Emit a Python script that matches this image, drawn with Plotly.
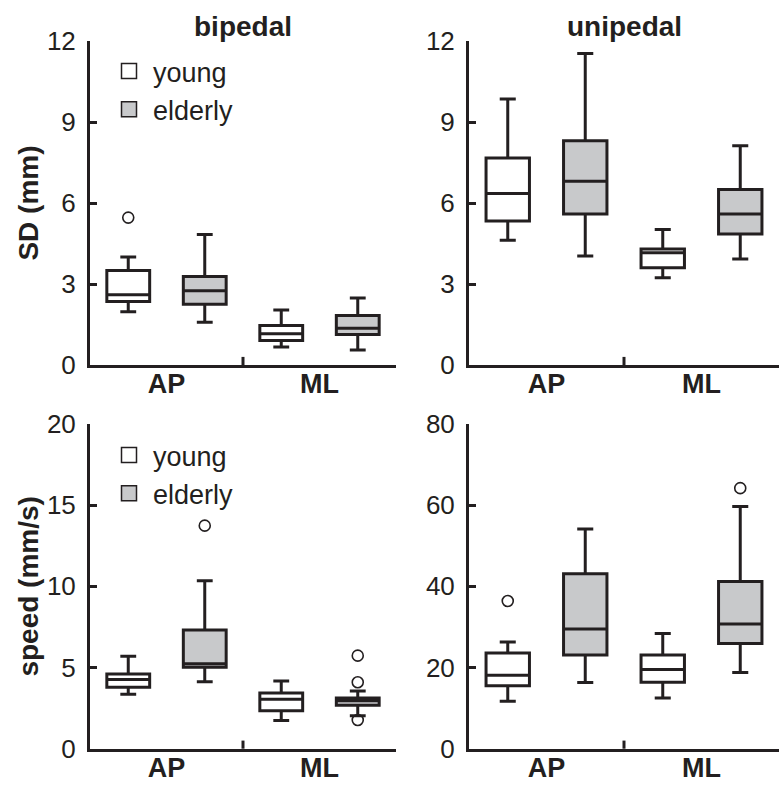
import plotly.graph_objects as go

# ---------------- data ----------------
categories = ["AP", "ML"]
groups = ["young", "elderly"]

# SD (mm), bipedal
sd_bi_young = dict(q1=[2.35, 0.91], median=[2.60, 1.16], q3=[3.50, 1.46],
                   lowerfence=[1.97, 0.67], upperfence=[4.00, 2.04], outliers=[[5.46], []])
sd_bi_elderly = dict(q1=[2.25, 1.13], median=[2.75, 1.36], q3=[3.28, 1.83],
                     lowerfence=[1.58, 0.56], upperfence=[4.83, 2.48], outliers=[[], []])
# SD (mm), unipedal
sd_uni_young = dict(q1=[5.33, 3.60], median=[6.35, 4.16], q3=[7.67, 4.30],
                    lowerfence=[4.62, 3.23], upperfence=[9.85, 5.02], outliers=[[], []])
sd_uni_elderly = dict(q1=[5.59, 4.85], median=[6.81, 5.59], q3=[8.31, 6.50],
                      lowerfence=[4.04, 3.93], upperfence=[11.54, 8.12], outliers=[[], []])
# speed (mm/s), bipedal
sp_bi_young = dict(q1=[3.78, 2.34], median=[4.27, 3.04], q3=[4.60, 3.43],
                   lowerfence=[3.35, 1.73], upperfence=[5.69, 4.17], outliers=[[], []])
sp_bi_elderly = dict(q1=[5.01, 2.67], median=[5.24, 2.96], q3=[7.31, 3.12],
                     lowerfence=[4.13, 2.03], upperfence=[10.35, 3.56],
                     outliers=[[13.74], [5.73, 4.09, 1.77]])
# speed (mm/s), unipedal
sp_uni_young = dict(q1=[15.5, 16.4], median=[18.1, 19.5], q3=[23.6, 23.1],
                    lowerfence=[11.7, 12.5], upperfence=[26.3, 28.4], outliers=[[36.4], []])
sp_uni_elderly = dict(q1=[23.1, 25.9], median=[29.5, 30.7], q3=[43.1, 41.2],
                      lowerfence=[16.3, 18.8], upperfence=[54.1, 59.7], outliers=[[], [64.2]])

panel_titles = ["bipedal", "unipedal"]
y_titles = ["SD (mm)", "speed (mm/s)"]
sd_ticks = [0, 3, 6, 9, 12]
speed_bi_ticks = [0, 5, 10, 15, 20]
speed_uni_ticks = [0, 20, 40, 60, 80]

# ---------------- style ----------------
INK = "#231f20"
FILL = {"young": "#ffffff", "elderly": "#c8c9cb"}
FONT = "Liberation Sans, Arial, sans-serif"
LW = 3

fig = go.Figure()

panels = [
    # (young, elderly, xaxis, yaxis, legend)
    (sd_bi_young, sd_bi_elderly, "x", "y", "legend"),
    (sd_uni_young, sd_uni_elderly, "x2", "y2", None),
    (sp_bi_young, sp_bi_elderly, "x3", "y3", "legend2"),
    (sp_uni_young, sp_uni_elderly, "x4", "y4", None),
]


def sample_arrays(outliers):
    # plotly needs a non-empty first row for 2-D sample arrays; empty rows get a null
    if not any(len(o) for o in outliers):
        return None
    return [list(o) if len(o) else [None] for o in outliers]


for young, elderly, xa, ya, leg in panels:
    for name, st in (("young", young), ("elderly", elderly)):
        samples = sample_arrays(st["outliers"])
        kw = dict(
            name=name, x=categories,
            q1=st["q1"], median=st["median"], q3=st["q3"],
            lowerfence=st["lowerfence"], upperfence=st["upperfence"],
            fillcolor=FILL[name],
            line=dict(color=INK, width=LW),
            whiskerwidth=0.37,
            offsetgroup=name, alignmentgroup=xa,
            xaxis=xa, yaxis=ya, hoverinfo="skip",
            showlegend=False,
        )
        if samples is not None:
            kw.update(y=samples, boxpoints="all", jitter=0, pointpos=0,
                      marker=dict(symbol="circle-open", size=11, color=INK,
                                  line=dict(width=1.6, color=INK)))
        else:
            kw.update(boxpoints=False)
        fig.add_trace(go.Box(**kw))
    if leg is not None:
        # legend entries: square swatches matching the box fills
        for name in groups:
            fig.add_trace(go.Scatter(
                x=[None], y=[None], mode="markers", name=name,
                marker=dict(symbol="square", size=15, color=FILL[name],
                            line=dict(color=INK, width=1.5)),
                xaxis=xa, yaxis=ya, legend=leg, showlegend=True, hoverinfo="skip"))

xdom_l = [90 / 779, 396 / 779]
xdom_r = [469 / 779, 1.0]
ydom_t = [1 - 365 / 787, 1 - 41 / 787]
ydom_b = [1 - 748.7 / 787, 1 - 424 / 787]

xcommon = dict(type="category", range=[-0.5, 1.5], showline=True, linecolor=INK,
               linewidth=LW, ticks="", showgrid=False, zeroline=False, automargin=False,
               tickfont=dict(family=FONT, size=27, color=INK, weight="bold"),
               ticklabelstandoff=-7)
ycommon = dict(showline=True, linecolor=INK, linewidth=LW, ticks="inside",
               ticklen=7, tickwidth=LW, tickcolor=INK, showgrid=False, zeroline=False,
               automargin=False,
               tickfont=dict(family=FONT, size=26, color=INK),
               ticklabelstandoff=6)
legcommon = dict(xanchor="left", yanchor="top", bgcolor="rgba(0,0,0,0)", itemwidth=38,
                 borderwidth=0, font=dict(family=FONT, size=27, color=INK))

fig.update_layout(
    template="none",
    width=779, height=787,
    margin=dict(l=0, r=0, t=0, b=0),
    paper_bgcolor="white", plot_bgcolor="white",
    boxmode="group", boxgap=0, boxgroupgap=0.44,
    font=dict(family=FONT, color=INK),
    xaxis=dict(domain=xdom_l, anchor="y", **xcommon),
    xaxis2=dict(domain=xdom_r, anchor="y2", **xcommon),
    xaxis3=dict(domain=xdom_l, anchor="y3", **xcommon),
    xaxis4=dict(domain=xdom_r, anchor="y4", **xcommon),
    yaxis=dict(domain=ydom_t, anchor="x", range=[0, 12], tickvals=sd_ticks,
               title=dict(text=y_titles[0], standoff=1,
                          font=dict(family=FONT, size=28, color=INK, weight="bold")),
               **ycommon),
    yaxis2=dict(domain=ydom_t, anchor="x2", range=[0, 12], tickvals=sd_ticks, **ycommon),
    yaxis3=dict(domain=ydom_b, anchor="x3", range=[0, 20], tickvals=speed_bi_ticks,
                title=dict(text=y_titles[1], standoff=1,
                           font=dict(family=FONT, size=28, color=INK, weight="bold")),
                **ycommon),
    yaxis4=dict(domain=ydom_b, anchor="x4", range=[0, 80], tickvals=speed_uni_ticks, **ycommon),
    legend=dict(x=(129 - 24) / 779, y=1 - 47 / 787, **legcommon),
    legend2=dict(x=(129 - 24) / 779, y=1 - 431 / 787, **legcommon),
)

# panel titles
for title, xd in zip(panel_titles, (xdom_l, xdom_r)):
    fig.add_annotation(text=title, xref="paper", yref="paper",
                       x=(xd[0] + xd[1]) / 2, y=1 - 26 / 787,
                       xanchor="center", yanchor="middle", showarrow=False,
                       font=dict(family=FONT, size=28, color=INK, weight="bold"))

# separator tick between the two categories on each x axis
for xa, ya in (("x", "y"), ("x2", "y2"), ("x3", "y3"), ("x4", "y4")):
    fig.add_shape(type="line", xref=xa, yref=f"{ya} domain",
                  x0=0.5, x1=0.5, y0=0, y1=0.025,
                  line=dict(color=INK, width=LW))

fig.write_html("out.html")
